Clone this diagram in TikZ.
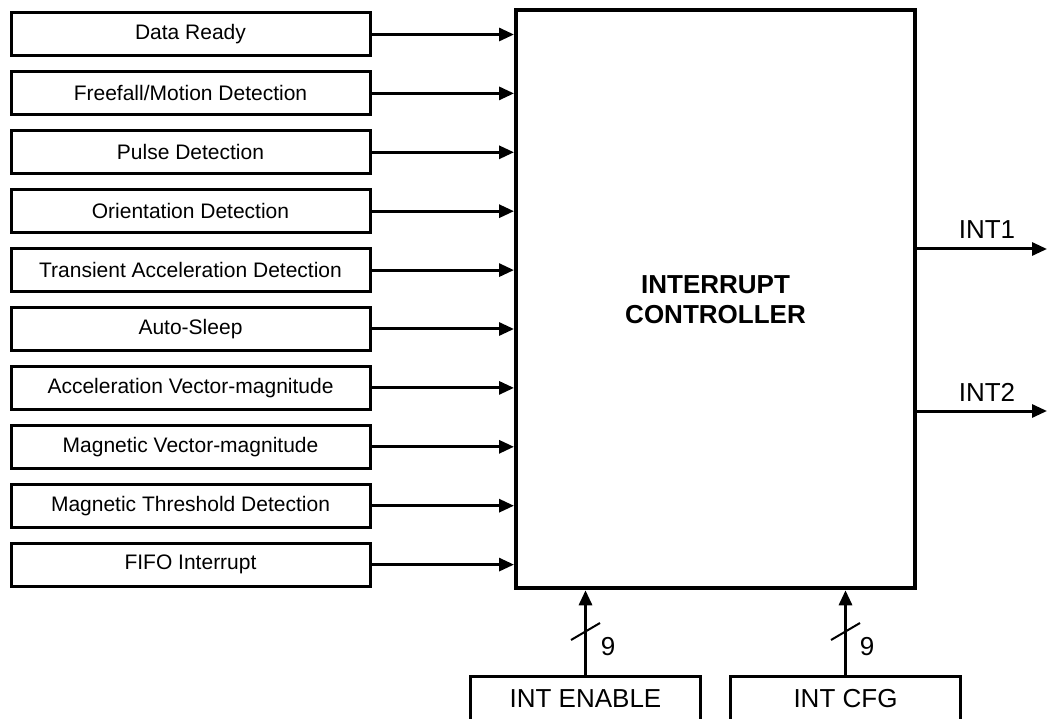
\documentclass[tikz,border=0pt]{standalone}
\usepackage{fontspec}
\setmainfont{Liberation Sans}
\usetikzlibrary{arrows.meta}
\begin{document}
\begin{tikzpicture}[x=1pt,y=-1pt,
  srcbox/.style={draw,line width=3pt,minimum width=359pt,minimum height=43pt,inner sep=0pt,font=\fontsize{21}{25}\selectfont},
  ctrlbox/.style={draw,line width=4pt,minimum width=399pt,minimum height=578pt,inner sep=0pt,align=center,font=\fontsize{26}{30}\selectfont\bfseries},
  regbox/.style={draw,line width=3pt,minimum width=230pt,minimum height=46pt,inner sep=0pt,font=\fontsize{26}{30}\selectfont},
  arr/.style={line width=3pt,-{Triangle[length=15pt,width=13pt]}},
  lbl/.style={inner sep=0pt,font=\fontsize{26}{30}\selectfont},
  slash/.style={line width=2pt}]
\clip (0,0) rectangle (1047,719);
\useasboundingbox (0,0) rectangle (1047,719);
\node[ctrlbox] (ctrl) at (715.5,299.25) {INTERRUPT\\CONTROLLER};
\foreach \t [count=\i from 0] in {Data Ready,Freefall/Motion Detection,Pulse Detection,Orientation Detection,Transient Acceleration Detection,Auto-Sleep,Acceleration Vector-magnitude,Magnetic Vector-magnitude,Magnetic Threshold Detection,FIFO Interrupt}{
  \node[srcbox] (b\i) at (190.5,{34.5+\i*58.9}) {\t};
  \draw[arr] (b\i.east) -- (b\i.east -| ctrl.west);
}
\coordinate (o1) at (1047,249);
\coordinate (o2) at (1047,411);
\draw[arr] (o1 -| ctrl.east) -- (o1);
\draw[arr] (o2 -| ctrl.east) -- (o2);
\node[lbl] (l1) at (987,230) {INT1};
\node[lbl] (l2) at (987,392.5) {INT2};
\node[regbox] (en) at (585.5,699) {INT ENABLE};
\node[regbox] (cfg) at (845.5,699) {INT CFG};
\draw[arr] (en.north) -- (en.north |- ctrl.south);
\draw[arr] (cfg.north) -- (cfg.north |- ctrl.south);
\coordinate (s1) at (585.5,631.5);
\coordinate (s2) at (845.5,631.5);
\draw[slash] ([shift={(-14.5,8.5)}]s1) -- ([shift={(14.5,-8.5)}]s1);
\draw[slash] ([shift={(-14.5,8.5)}]s2) -- ([shift={(14.5,-8.5)}]s2);
\node[lbl] (n1) at (608,647) {9};
\node[lbl] (n2) at (867,647) {9};
\end{tikzpicture}
\end{document}
